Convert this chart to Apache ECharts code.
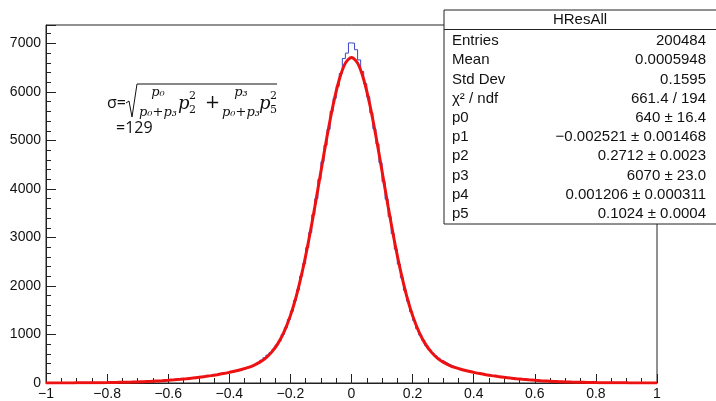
<!DOCTYPE html>
<html>
<head>
<meta charset="utf-8">
<script src="https://cdn.jsdelivr.net/npm/echarts@6/dist/echarts.min.js"></script>
<style>
html,body{margin:0;padding:0;background:#fff;}
#chart{width:716px;height:401px;}
</style>
</head>
<body>
<div id="chart"></div>
<script>
// ---- Histogram definition (200 bins from -1 to 1) ----
const histMin = -1;
const binWidth = 0.01;
// bin contents, from bin [-1,-0.99] to bin [0.99,1]
const histCounts = [
  1,0,1,1,1,1,1,2,2,2,
  2,3,3,4,4,5,5,6,7,8,
  9,10,10,12,13,14,16,18,19,22,
  23,27,28,32,34,37,42,44,49,52,
  58,62,68,72,79,84,92,97,106,112,
  122,128,139,146,158,165,179,187,201,213,
  222,238,250,266,284,302,330,356,386,420,
  470,520,575,625,695,780,870,1000,1140,1310,
  1480,1700,1920,2200,2460,2790,3100,3470,3800,4200,
  4560,4900,5230,5600,5870,6120,6380,6690,6800,7010,
  7005,6870,6660,6420,6170,5900,5570,5240,4930,4540,
  4150,3790,3430,3080,2760,2450,2170,1910,1690,1470,
  1290,1120,990,880,770,690,618,560,510,465,
  428,392,360,336,310,289,268,254,237,224,
  211,199,190,176,168,155,148,137,131,120,
  114,104,99,90,86,78,74,66,63,57,
  54,48,46,41,38,35,31,29,26,24,
  22,20,18,16,15,13,12,11,9,9,
  8,7,6,6,5,4,4,3,3,3,
  2,2,2,2,1,1,1,1,1,1
];

// ---- Fit curve, sampled every 0.02 from -1 to 1 ----
const fitMin = -1;
const fitStep = 0.02;
const fitValues = [
  1,1,1,2,2,3,3,4,5,7,
  8,10,13,16,19,23,28,33,40,47,
  55,65,76,88,102,117,134,152,172,194,
  219,246,278,316,365,430,520,646,822,1064,
  1389,1808,2329,2944,3635,4366,5087,5737,6257,6594,
  6710,
  6594,6257,5737,5087,4366,3635,2944,2329,1808,1389,
  1064,822,646,520,430,365,316,278,246,219,
  194,172,152,134,117,102,88,76,65,55,
  47,40,33,28,23,19,16,13,10,8,
  7,5,4,3,3,2,2,1,1,1
];

// ---- Axes ----
const xTicks = [-1, -0.8, -0.6, -0.4, -0.2, 0, 0.2, 0.4, 0.6, 0.8, 1];
const yTicks = [0, 1000, 2000, 3000, 4000, 5000, 6000, 7000];

// ---- Stats box ----
const statsTitle = 'HResAll';
const statsNames = ['Entries', 'Mean', 'Std Dev', 'χ² / ndf', 'p0', 'p1', 'p2', 'p3', 'p4', 'p5'];
const statsValues = ['200484', '0.0005948', '0.1595', '661.4 / 194', '640 ± 16.4',
  '−0.002521 ± 0.001468', '0.2712 ± 0.0023', '6070 ± 23.0', '0.001206 ± 0.000311', '0.1024 ± 0.0004'];

// ---- Build series data ----
const histData = histCounts.map((c, i) => [histMin + i * binWidth, c]);
histData.push([histMin + histCounts.length * binWidth, histCounts[histCounts.length - 1]]);
const fitData = fitValues.map((v, i) => [fitMin + i * fitStep, v]);

const chart = echarts.init(document.getElementById('chart'), null, {renderer: 'canvas'});

const G = {left: 46, right: 657, top: 25, bottom: 383};
const labelFont = 'Liberation Sans, Arial, sans-serif';

const graphics = [];
// Formula
const serif = 'DejaVu Serif, Liberation Serif, serif';
const sans = '"Open Sans", sans-serif';
graphics.push({type: 'text', x: 107, y: 103, z: 50, style: {text: 'σ=', font: '16px ' + sans, fill: '#111', verticalAlign: 'middle'}});
graphics.push({type: 'polyline', z: 50, shape: {points: [[126, 103], [129, 101], [132, 117], [137, 84], [277, 84]]}, style: {stroke: '#111', lineWidth: 1, fill: null}});
function frac(cx, mkNum) {
  graphics.push({type: 'text', x: cx, y: 93, z: 50, style: {text: mkNum, font: 'italic 13px ' + serif, fill: '#111', align: 'center', verticalAlign: 'middle'}});
  graphics.push({type: 'text', x: cx, y: 113, z: 50, style: {text: 'p₀+p₃', font: 'italic 13px ' + serif, fill: '#111', align: 'center', verticalAlign: 'middle'}});
}
function pow(x, sub) {
  graphics.push({type: 'text', x: x, y: 104, z: 50, style: {text: 'p', font: 'italic 18px ' + serif, fill: '#111', verticalAlign: 'middle'}});
  graphics.push({type: 'text', x: x + 11, y: 96, z: 50, style: {text: '2', font: '11px ' + serif, fill: '#111', verticalAlign: 'middle'}});
  graphics.push({type: 'text', x: x + 11, y: 110, z: 50, style: {text: sub, font: '11px ' + serif, fill: '#111', verticalAlign: 'middle'}});
}
frac(158, 'p₀');
pow(178, '2');
graphics.push({type: 'text', x: 205, y: 103, z: 50, style: {text: '+', font: '18px ' + serif, fill: '#111', verticalAlign: 'middle'}});
frac(241, 'p₃');
pow(259, '5');
graphics.push({type: 'text', x: 116, y: 128, z: 50, style: {text: '=129', font: '16px ' + sans, fill: '#111', verticalAlign: 'middle'}});

// Stats box
const bx = 444, by = 10, bw = 290, bh = 214;
graphics.push({type: 'rect', z: 100, shape: {x: bx, y: by, width: bw, height: bh}, style: {fill: '#fff', stroke: '#222', lineWidth: 1}});
graphics.push({type: 'line', z: 101, shape: {x1: bx, y1: 29.5, x2: 716, y2: 29.5}, style: {stroke: '#222', lineWidth: 1}});
graphics.push({type: 'text', z: 101, x: 580, y: 20, style: {text: statsTitle, font: '15px ' + labelFont, fill: '#111', align: 'center', verticalAlign: 'middle'}});
statsNames.forEach((n, i) => {
  const y = 41 + i * 19.2;
  graphics.push({type: 'text', z: 101, x: 452, y: y, style: {text: n, font: '15px ' + labelFont, fill: '#111', verticalAlign: 'middle'}});
  graphics.push({type: 'text', z: 101, x: 706, y: y, style: {text: statsValues[i], font: '15px ' + labelFont, fill: '#111', align: 'right', verticalAlign: 'middle'}});
});

const fmtX = v => {
  const r = Math.round(v * 10) / 10;
  return r < 0 ? '−' + Math.abs(r) : String(r);
};

chart.setOption({
  animation: false,
  backgroundColor: '#ffffff',
  grid: {left: G.left, top: G.top, width: G.right - G.left, height: G.bottom - G.top,
    show: true, borderColor: '#222', borderWidth: 1, containLabel: false},
  xAxis: {
    type: 'value', min: -1, max: 1, interval: 0.2,
    axisLine: {show: true, onZero: false, lineStyle: {color: '#222', width: 1}},
    axisTick: {show: true, inside: true, length: 9, lineStyle: {color: '#222'}},
    minorTick: {show: true, splitNumber: 4, length: 5, lineStyle: {color: '#222'}},
    splitLine: {show: false},
    axisLabel: {color: '#111', fontSize: 14, fontFamily: labelFont, margin: 4,
      formatter: v => xTicks.some(t => Math.abs(t - v) < 1e-6) ? fmtX(v) : ''}
  },
  yAxis: {
    type: 'value', min: 0, max: 7380, interval: 1000,
    axisLine: {show: true, onZero: false, lineStyle: {color: '#222', width: 1}},
    axisTick: {show: true, inside: true, length: 10, lineStyle: {color: '#222'}},
    minorTick: {show: true, splitNumber: 5, length: 5, lineStyle: {color: '#222'}},
    splitLine: {show: false},
    axisLabel: {color: '#111', fontSize: 14, fontFamily: labelFont, margin: 5, showMaxLabel: false,
      formatter: v => yTicks.includes(v) ? String(v) : ''}
  },
  series: [
    {type: 'line', name: 'hist', data: histData, step: 'end', showSymbol: false, symbol: 'none',
      lineStyle: {color: '#3845c8', width: 1}, z: 2},
    {type: 'line', name: 'fit', data: fitData, smooth: 0.3, showSymbol: false, symbol: 'none',
      lineStyle: {color: '#ee1111', width: 3}, z: 3}
  ],
  graphic: graphics
});
</script>
</body>
</html>
